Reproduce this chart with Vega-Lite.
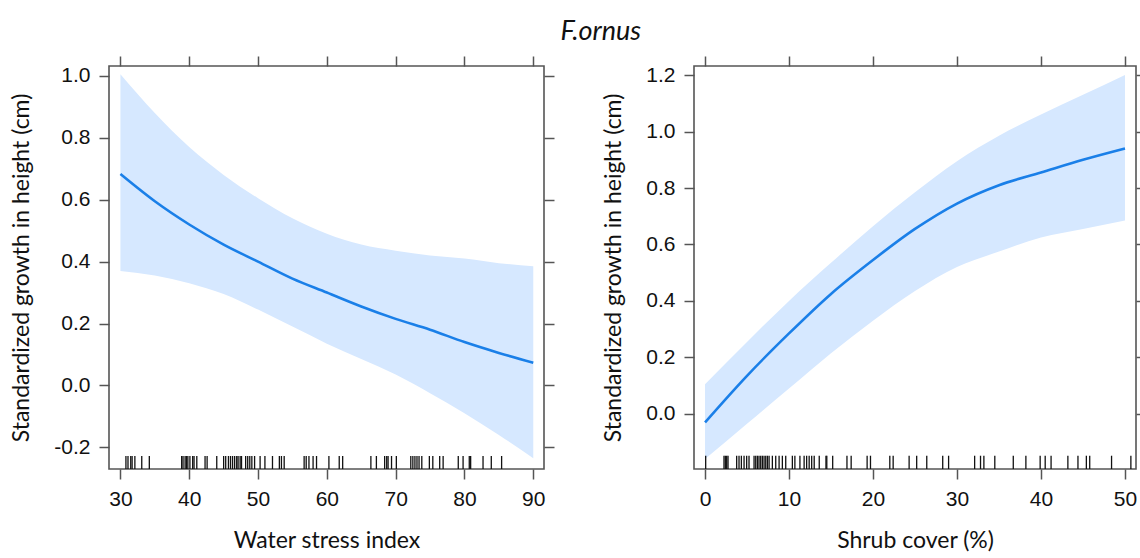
{
  "$schema": "https://vega.github.io/schema/vega-lite/v6.json",
  "background": "white",
  "padding": {"left": 10, "top": 18, "right": 0, "bottom": 0},
  "title": {"text": "F.ornus", "anchor": "middle", "font": "Lato", "fontStyle": "italic", "fontWeight": "normal", "fontSize": 27, "color": "#111", "offset": 8, "dx": 22},
  "spacing": 46,
  "config": {
    "locale": {"number": {"decimal": ".", "thousands": ",", "grouping": [3], "currency": ["$", ""], "minus": "-"}},
    "view": {"stroke": "#555", "strokeWidth": 1.6},
    "axis": {"domain": false, "grid": false, "tickColor": "#555", "tickWidth": 1.5, "tickSize": 10, "labelFont": "Liberation Sans", "labelFontSize": 21, "labelColor": "#111", "labelPadding": 9, "titleFont": "Lato", "titleFontSize": 23, "titleFontWeight": "normal", "titleColor": "#111", "titlePadding": 20}
  },
  "datasets": {
    "leftCurve": [
      {"x": 30, "fit": 0.683, "lo": 0.37, "hi": 1.005},
      {"x": 35, "fit": 0.595, "lo": 0.355, "hi": 0.88},
      {"x": 40, "fit": 0.52, "lo": 0.33, "hi": 0.77},
      {"x": 45, "fit": 0.455, "lo": 0.295, "hi": 0.68},
      {"x": 50, "fit": 0.4, "lo": 0.245, "hi": 0.605},
      {"x": 55, "fit": 0.345, "lo": 0.19, "hi": 0.54},
      {"x": 60, "fit": 0.3, "lo": 0.135, "hi": 0.49},
      {"x": 65, "fit": 0.255, "lo": 0.085, "hi": 0.455},
      {"x": 70, "fit": 0.215, "lo": 0.035, "hi": 0.435},
      {"x": 75, "fit": 0.18, "lo": -0.025, "hi": 0.42},
      {"x": 80, "fit": 0.14, "lo": -0.09, "hi": 0.41},
      {"x": 85, "fit": 0.105, "lo": -0.16, "hi": 0.395},
      {"x": 90, "fit": 0.073, "lo": -0.235, "hi": 0.385}
    ],
    "leftRug": [
      {"x": 30.8}, {"x": 31.1}, {"x": 31.5}, {"x": 31.7}, {"x": 32.1}, {"x": 33.1}, {"x": 34.2},
      {"x": 38.9}, {"x": 39.1}, {"x": 39.4}, {"x": 39.6}, {"x": 39.8}, {"x": 40.1}, {"x": 40.5}, {"x": 40.7}, {"x": 41.1},
      {"x": 42.3}, {"x": 42.6}, {"x": 44.0}, {"x": 45.0}, {"x": 45.3}, {"x": 45.7}, {"x": 46.0}, {"x": 46.3}, {"x": 46.6},
      {"x": 46.9}, {"x": 47.1}, {"x": 47.4}, {"x": 47.6}, {"x": 48.2}, {"x": 48.5}, {"x": 48.8}, {"x": 49.1}, {"x": 49.5},
      {"x": 50.3}, {"x": 51.0}, {"x": 52.1}, {"x": 53.1}, {"x": 53.4}, {"x": 53.8}, {"x": 56.7}, {"x": 57.0}, {"x": 57.4},
      {"x": 58.0}, {"x": 58.5}, {"x": 60.3}, {"x": 61.8}, {"x": 62.3}, {"x": 66.4}, {"x": 67.2}, {"x": 68.4}, {"x": 68.7},
      {"x": 68.9}, {"x": 69.4}, {"x": 70.1}, {"x": 72.2}, {"x": 72.5}, {"x": 72.8}, {"x": 73.1}, {"x": 73.4}, {"x": 73.8},
      {"x": 74.9}, {"x": 75.4}, {"x": 76.4}, {"x": 76.9}, {"x": 79.1}, {"x": 79.8}, {"x": 80.7}, {"x": 80.9}, {"x": 82.7},
      {"x": 83.9}, {"x": 85.4}
    ],
    "rightCurve": [
      {"x": 0, "fit": -0.03, "lo": -0.16, "hi": 0.105},
      {"x": 5, "fit": 0.135, "lo": -0.035, "hi": 0.255},
      {"x": 10, "fit": 0.285, "lo": 0.09, "hi": 0.4},
      {"x": 15, "fit": 0.425, "lo": 0.215, "hi": 0.535},
      {"x": 20, "fit": 0.545, "lo": 0.33, "hi": 0.665},
      {"x": 25, "fit": 0.655, "lo": 0.435, "hi": 0.785},
      {"x": 30, "fit": 0.745, "lo": 0.52, "hi": 0.895},
      {"x": 35, "fit": 0.81, "lo": 0.575, "hi": 0.985},
      {"x": 40, "fit": 0.855, "lo": 0.625, "hi": 1.06},
      {"x": 45, "fit": 0.9, "lo": 0.655, "hi": 1.13},
      {"x": 50, "fit": 0.94, "lo": 0.685, "hi": 1.2}
    ],
    "rightRug": [
      {"x": 0.08}, {"x": 2.26}, {"x": 2.42}, {"x": 2.58}, {"x": 2.74}, {"x": 3.77}, {"x": 4.05}, {"x": 4.33}, {"x": 4.65},
      {"x": 4.96}, {"x": 5.24}, {"x": 5.84}, {"x": 6.04}, {"x": 6.24}, {"x": 6.43}, {"x": 6.63}, {"x": 6.83}, {"x": 7.03},
      {"x": 7.23}, {"x": 7.43}, {"x": 7.63}, {"x": 8.02}, {"x": 8.42}, {"x": 8.82}, {"x": 9.21}, {"x": 9.61}, {"x": 10.4},
      {"x": 10.7}, {"x": 11.3}, {"x": 11.8}, {"x": 12.1}, {"x": 12.4}, {"x": 12.7}, {"x": 13.0}, {"x": 13.6}, {"x": 14.4},
      {"x": 14.5}, {"x": 15.2}, {"x": 16.9}, {"x": 17.4}, {"x": 19.3}, {"x": 19.7}, {"x": 22.0}, {"x": 22.4}, {"x": 24.3},
      {"x": 25.2}, {"x": 26.4}, {"x": 28.3}, {"x": 29.0}, {"x": 32.1}, {"x": 32.8}, {"x": 33.2}, {"x": 34.5}, {"x": 36.7},
      {"x": 38.2}, {"x": 39.9}, {"x": 40.5}, {"x": 41.2}, {"x": 43.2}, {"x": 44.4}, {"x": 45.4}, {"x": 45.8}, {"x": 48.4},
      {"x": 50.7}
    ]
  },
  "hconcat": [
    {
      "width": 435,
      "height": 403,
      "resolve": {"axis": {"x": "independent", "y": "independent"}},
      "layer": [
        {
          "data": {"name": "leftCurve"},
          "mark": {"type": "area", "color": "#d6e8ff", "opacity": 1, "interpolate": "monotone"},
          "encoding": {
            "x": {"field": "x", "type": "quantitative", "scale": {"domain": [28.34, 91.56], "nice": false, "zero": false}, "axis": {"orient": "bottom", "title": "Water stress index", "values": [30, 40, 50, 60, 70, 80, 90]}},
            "y": {"field": "lo", "type": "quantitative", "scale": {"domain": [-0.27, 1.032], "nice": false, "zero": false}, "axis": {"orient": "left", "title": "Standardized growth in height (cm)", "values": [-0.2, 0, 0.2, 0.4, 0.6, 0.8, 1.0], "format": ".1f"}},
            "y2": {"field": "hi"}
          }
        },
        {
          "data": {"name": "leftCurve"},
          "mark": {"type": "line", "color": "#1a7fe8", "strokeWidth": 2.6, "interpolate": "monotone"},
          "encoding": {
            "x": {"field": "x", "type": "quantitative", "axis": {"orient": "top", "title": null, "labels": false, "values": [30, 40, 50, 60, 70, 80, 90]}},
            "y": {"field": "fit", "type": "quantitative", "axis": {"orient": "right", "title": null, "labels": false, "values": [-0.2, 0, 0.2, 0.4, 0.6, 0.8, 1.0]}}
          }
        },
        {
          "data": {"name": "leftRug"},
          "mark": {"type": "rule", "color": "#111", "strokeWidth": 1.3},
          "encoding": {
            "x": {"field": "x", "type": "quantitative", "axis": null},
            "y": {"datum": -0.228, "type": "quantitative", "axis": null},
            "y2": {"datum": -0.27}
          }
        }
      ]
    },
    {
      "width": 442,
      "height": 403,
      "resolve": {"axis": {"x": "independent", "y": "independent"}},
      "layer": [
        {
          "data": {"name": "rightCurve"},
          "mark": {"type": "area", "color": "#d6e8ff", "opacity": 1, "interpolate": "monotone"},
          "encoding": {
            "x": {"field": "x", "type": "quantitative", "scale": {"domain": [-1.31, 51.31], "nice": false, "zero": false}, "axis": {"orient": "bottom", "title": "Shrub cover (%)", "values": [0, 10, 20, 30, 40, 50]}},
            "y": {"field": "lo", "type": "quantitative", "scale": {"domain": [-0.195, 1.232], "nice": false, "zero": false}, "axis": {"orient": "left", "title": "Standardized growth in height (cm)", "values": [0, 0.2, 0.4, 0.6, 0.8, 1.0, 1.2], "format": ".1f"}},
            "y2": {"field": "hi"}
          }
        },
        {
          "data": {"name": "rightCurve"},
          "mark": {"type": "line", "color": "#1a7fe8", "strokeWidth": 2.6, "interpolate": "monotone"},
          "encoding": {
            "x": {"field": "x", "type": "quantitative", "axis": {"orient": "top", "title": null, "labels": false, "values": [0, 10, 20, 30, 40, 50]}},
            "y": {"field": "fit", "type": "quantitative", "axis": {"orient": "right", "title": null, "labels": false, "values": [0, 0.2, 0.4, 0.6, 0.8, 1.0, 1.2]}}
          }
        },
        {
          "data": {"name": "rightRug"},
          "mark": {"type": "rule", "color": "#111", "strokeWidth": 1.3},
          "encoding": {
            "x": {"field": "x", "type": "quantitative", "axis": null},
            "y": {"datum": -0.148, "type": "quantitative", "axis": null},
            "y2": {"datum": -0.195}
          }
        }
      ]
    }
  ]
}
